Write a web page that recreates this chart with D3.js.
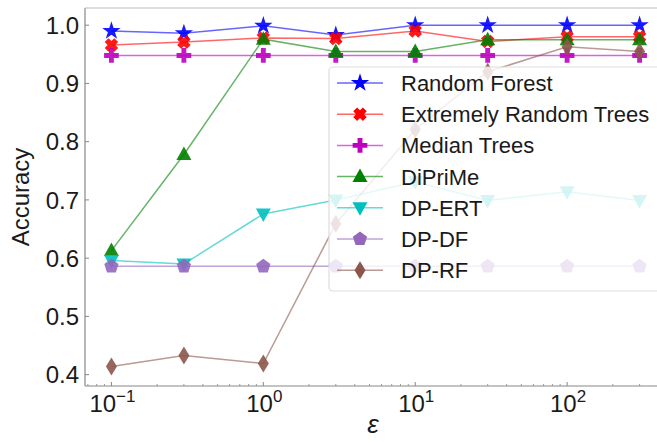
<!DOCTYPE html>
<meta charset="utf-8">
<style>
body { margin: 0; background: #fff; }
text { font-family: "Liberation Sans", Arial, Helvetica, sans-serif; fill: #1a1a1a; }
</style>
<svg id="chart" width="657" height="443"></svg>
<script src="https://cdn.jsdelivr.net/npm/d3@7"></script>
<script>

// epsilon values
var eps = [0.1, 0.3, 1, 3, 10, 30, 100, 300];

var randomForest = [0.990, 0.986, 0.999, 0.983, 1.0, 1.0, 1.0, 1.0];
var extremelyRandom = [0.966, 0.971, 0.978, 0.977, 0.990, 0.972, 0.980, 0.980];
var medianTrees = [0.948, 0.948, 0.948, 0.948, 0.948, 0.948, 0.948, 0.948];
var diprime = [0.613, 0.778, 0.976, 0.955, 0.955, 0.975, 0.975, 0.975];
var dpErt = [0.596, 0.590, 0.676, 0.700, 0.731, 0.699, 0.714, 0.699];
var dpDf = [0.586, 0.586, 0.586, 0.586, 0.586, 0.586, 0.586, 0.586];
var dpRf = [0.414, 0.433, 0.419, 0.659, 0.821, 0.920, 0.963, 0.955];

var yTicks = [0.4, 0.5, 0.6, 0.7, 0.8, 0.9, 1.0];
var xTicks = [0.1, 1, 10, 100];

var series = [
  {name: "Random Forest", values: randomForest, color: "#0000ff", marker: "star"},
  {name: "Extremely Random Trees", values: extremelyRandom, color: "#ff0000", marker: "x"},
  {name: "Median Trees", values: medianTrees, color: "#bf00bf", marker: "plus"},
  {name: "DiPriMe", values: diprime, color: "#008000", marker: "tri"},
  {name: "DP-ERT", values: dpErt, color: "#00bfbf", marker: "tridown"},
  {name: "DP-DF", values: dpDf, color: "#9467bd", marker: "pent"},
  {name: "DP-RF", values: dpRf, color: "#8c564b", marker: "diamond"}
];

var svg = d3.select("#chart"),
    plotL = 85, plotR = 666, plotT = 8, plotB = 386;

var x = d3.scaleLog()
    .domain([Math.pow(10, -1.174), Math.pow(10, 2.651)])
    .range([plotL, plotR]);

var y = d3.scaleLinear()
    .domain([0.3805, 1.0295])
    .range([plotB, plotT]);

// marker paths
function markerPath(type) {
  if (type === "star") return d3.symbol(d3.symbolStar, 105)();
  if (type === "plus") return d3.symbol(d3.symbolCross, 120)();
  if (type === "tri") return "M0,-8L7.5,5.5L-7.5,5.5Z";
  if (type === "tridown") return "M0,8L7.5,-5.5L-7.5,-5.5Z";
  if (type === "x") {
    var a = 2.6, b = 6.5, p = [];
    // filled X = cross rotated 45 deg
    var pts = [[-a,-b],[a,-b],[a,-a],[b,-a],[b,a],[a,a],[a,b],[-a,b],[-a,a],[-b,a],[-b,-a],[-a,-a]];
    pts.forEach(function(q) {
      var c = Math.SQRT1_2;
      p.push([(q[0] - q[1]) * c * 1.05, (q[0] + q[1]) * c * 1.05]);
    });
    return "M" + p.join("L") + "Z";
  }
  if (type === "pent") {
    var r = 7.5, pp = [];
    for (var i = 0; i < 5; i++) {
      var ang = -Math.PI / 2 + i * 2 * Math.PI / 5;
      pp.push([r * Math.cos(ang), r * Math.sin(ang)]);
    }
    return "M" + pp.join("L") + "Z";
  }
  if (type === "diamond") return "M0,-9L5.5,0L0,9L-5.5,0Z";
}

// axes frame
svg.append("line").attr("x1", plotL).attr("x2", plotL).attr("y1", plotT).attr("y2", plotB)
    .attr("stroke", "#888").attr("stroke-width", 1.2);
svg.append("line").attr("x1", plotL).attr("x2", plotR).attr("y1", plotB).attr("y2", plotB)
    .attr("stroke", "#888").attr("stroke-width", 1.2);
svg.append("line").attr("x1", plotL).attr("x2", plotR).attr("y1", plotT).attr("y2", plotT)
    .attr("stroke", "#bbb").attr("stroke-width", 1.2);

// y ticks
yTicks.forEach(function(t) {
  svg.append("line").attr("x1", plotL).attr("x2", plotL + 4)
      .attr("y1", y(t)).attr("y2", y(t)).attr("stroke", "#888");
  svg.append("text").attr("x", 79).attr("y", y(t)).attr("dy", "0.36em")
      .attr("text-anchor", "end").style("font-size", "24px")
      .text(t.toFixed(1));
});

// x ticks, major + minor
var minor = [];
for (var e = -2; e <= 3; e++) {
  for (var m = 2; m <= 9; m++) {
    var v = m * Math.pow(10, e);
    if (v > x.domain()[0] && v < x.domain()[1]) minor.push(v);
  }
}
minor.forEach(function(v) {
  svg.append("line").attr("x1", x(v)).attr("x2", x(v))
      .attr("y1", plotB).attr("y2", plotB - 2).attr("stroke", "#999");
});
xTicks.forEach(function(t) {
  var ex = Math.round(Math.log10(t));
  svg.append("line").attr("x1", x(t)).attr("x2", x(t))
      .attr("y1", plotB).attr("y2", plotB - 4).attr("stroke", "#888");
  var lab = svg.append("text").attr("x", x(t) + 1).attr("y", 412)
      .attr("text-anchor", "middle").style("font-size", "24px");
  lab.append("tspan").text("10");
  lab.append("tspan").attr("dy", -10).style("font-size", "17px")
      .text(ex < 0 ? "\u2212" + (-ex) : ex);
});

svg.append("text").attr("x", 373).attr("y", 433).attr("text-anchor", "middle")
    .style("font-size", "26px").style("font-style", "italic").text("\u03b5");

svg.append("text").attr("transform", "translate(29,197) rotate(-90)")
    .attr("text-anchor", "middle").style("font-size", "24px").text("Accuracy");

// lines + markers
var line = d3.line()
    .x(function(d, i) { return x(eps[i]); })
    .y(function(d) { return y(d); });

var g = svg.append("g");
series.forEach(function(s) {
  g.append("path").attr("d", line(s.values))
      .attr("fill", "none").attr("stroke", s.color)
      .attr("stroke-width", 1.5).attr("stroke-opacity", 0.6);
});
series.forEach(function(s) {
  g.selectAll(null).data(s.values).enter().append("path")
      .attr("d", markerPath(s.marker))
      .attr("transform", function(d, i) { return "translate(" + x(eps[i]) + "," + y(d) + ")"; })
      .attr("fill", s.color).attr("fill-opacity", 0.9);
});

// legend
var lg = svg.append("g");
lg.append("rect").attr("x", 329).attr("y", 67).attr("width", 360).attr("height", 224)
    .attr("rx", 4).attr("fill", "#fff").attr("fill-opacity", 0.82)
    .attr("stroke", "#ddd").attr("stroke-width", 1.2);
series.forEach(function(s, i) {
  var yy = 83 + i * 31.2;
  lg.append("line").attr("x1", 337).attr("x2", 383).attr("y1", yy).attr("y2", yy)
      .attr("stroke", s.color).attr("stroke-width", 1.5).attr("stroke-opacity", 0.6);
  lg.append("path").attr("d", markerPath(s.marker))
      .attr("transform", "translate(360," + yy + ")").attr("fill", s.color);
  lg.append("text").attr("x", 401).attr("y", yy).attr("dy", "0.36em")
      .style("font-size", "22px").text(s.name);
});

</script>
